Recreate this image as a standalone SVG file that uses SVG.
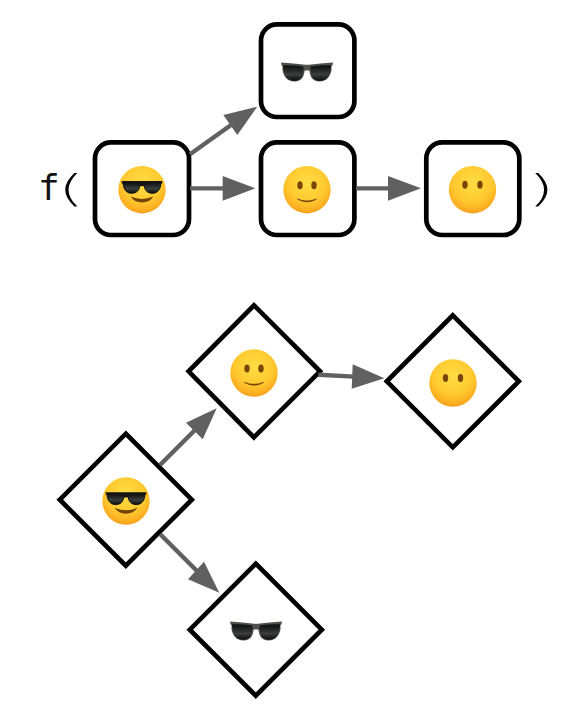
<svg xmlns="http://www.w3.org/2000/svg" width="578" height="720" viewBox="0 0 578 720">
<style>
.box{fill:#fff;stroke:#000;stroke-width:4.7;stroke-linejoin:miter}
.edge{fill:none;stroke:#606060;stroke-width:4.4}
.head{fill:#606060;stroke:none}
.fn{font-family:"DejaVu Sans Mono",monospace;font-size:36px;fill:#111}
.paren{font-family:"DejaVu Sans",sans-serif;font-weight:200;font-size:38px;fill:#000;text-anchor:middle}
</style>
<defs>
<radialGradient id="face" cx="0.5" cy="0.35" r="0.68">
<stop offset="0" stop-color="#ffdd45"/><stop offset="0.6" stop-color="#ffc92e"/><stop offset="0.9" stop-color="#fba91f"/><stop offset="1" stop-color="#ef9015"/>
</radialGradient>
<linearGradient id="lens" x1="0" y1="0" x2="0" y2="1">
<stop offset="0" stop-color="#0c0c0c"/><stop offset="0.6" stop-color="#3a3e3d"/><stop offset="1" stop-color="#0c0c0c"/>
</linearGradient>
<symbol id="smile" overflow="visible" viewBox="-24 -24 48 48" width="48" height="48">
<circle r="23.7" fill="url(#face)"/>
<ellipse cx="-7" cy="-4.5" rx="2.7" ry="4" fill="#7a4608"/><ellipse cx="7" cy="-4.5" rx="2.7" ry="4" fill="#7a4608"/>
<path d="M-9.5 9.4Q0 13.2 9.5 9.4Q0 15 -9.5 9.4Z" fill="#6e3f08" stroke="#6e3f08" stroke-width=".7"/>
</symbol>
<symbol id="neutral" overflow="visible" viewBox="-24 -24 48 48" width="48" height="48">
<circle r="23.7" fill="url(#face)"/>
<ellipse cx="-7.5" cy="-5" rx="2.7" ry="4" fill="#7a4608"/><ellipse cx="7.5" cy="-5" rx="2.7" ry="4" fill="#7a4608"/>
</symbol>
<symbol id="cool" overflow="visible" viewBox="-24 -24 48 48" width="48" height="48">
<circle r="23.7" fill="url(#face)"/>
<path d="M-20.5 -8.8H20.5L20 -6H-20Z" fill="#151515"/>
<path d="M-19 -7.5H-2.5C-1.5 -2 -3.5 3.6 -10.5 3.6C-16.5 3.6 -19 -2 -19 -7.5Z" fill="url(#lens)" stroke="#111" stroke-width="1"/>
<path d="M19 -7.5H2.5C1.5 -2 3.5 3.6 10.5 3.6C16.5 3.6 19 -2 19 -7.5Z" fill="url(#lens)" stroke="#111" stroke-width="1"/>
<path d="M-3 -7H3V-3.5H-3Z" fill="#151515"/>
<path d="M-11.3 6.8Q0 11.6 11.3 6.8Q8 12.6 0 12.8Q-8 12.6 -11.3 6.8Z" fill="#744308"/>
</symbol>
<symbol id="shades" overflow="visible" viewBox="-26 -10 52 20" width="52" height="20">
<path d="M-26 -9.5Q-12 -8.5 -4 -7.5Q0 -7 4 -7.5Q12 -8.5 26 -9.5L25.5 -6.5L24.5 -6V-2C23.5 4 20 9.5 12.5 9.5C5 9.5 3 4 2.5 -1Q0 -2.5 -2.5 -1C-3 4 -5 9.5 -12.5 9.5C-20 9.5 -23.5 4 -24.5 -2V-6L-25.5 -6.5Z" fill="#50514c"/>
<path d="M-24 -6.8Q-12 -6.8 -3.6 -5.5C-3 2 -5 8.7 -12.5 8.7C-20 8.7 -24 3 -24 -6.8Z" fill="url(#lens)"/>
<path d="M24 -6.8Q12 -6.8 3.6 -5.5C3 2 5 8.7 12.5 8.7C20 8.7 24 3 24 -6.8Z" fill="url(#lens)"/>
</symbol>
</defs>
<rect width="578" height="720" fill="#fff"/>
<text class="fn" x="38" y="200">f</text>
<text class="paren" transform="translate(71 201) scale(1.8 1)">(</text>
<text class="paren" transform="translate(541 201) scale(1.8 1)">)</text>
<g id="top-cool"><rect class="box" x="95" y="142.4" width="94" height="92.6" rx="16"/><use href="#cool" x="118" y="165.7"/></g>
<g id="top-shades"><rect class="box" x="261" y="24.4" width="93.4" height="92.6" rx="16"/><use href="#shades" x="281" y="62"/></g>
<g id="top-smile"><rect class="box" x="261" y="142.4" width="93.4" height="92.6" rx="16"/><use href="#smile" x="283" y="165.7"/></g>
<g id="top-neutral"><rect class="box" x="426.3" y="142.4" width="93" height="92.6" rx="16"/><use href="#neutral" x="448.5" y="165.7"/></g>
<g id="dia-cool"><path class="box" d="M125.8 433.7L191.8 499.7L125.8 565.7L59.8 499.7Z"/><use href="#cool" x="102" y="477"/></g>
<g id="dia-smile"><path class="box" d="M254 305.3L320 371.3L254 437.3L188.6 371.3Z"/><use href="#smile" x="230" y="349"/></g>
<g id="dia-neutral"><path class="box" d="M452.8 315.3L518.8 381.3L452.8 447.3L386.8 381.3Z"/><use href="#neutral" x="429" y="359"/></g>
<g id="dia-shades"><path class="box" d="M255.8 563.7L321.8 629.7L255.8 695.7L189.8 629.7Z"/><use href="#shades" x="230" y="621"/></g>
<g id="connectors">
<line class="edge" x1="190" y1="154.3" x2="231" y2="125"/><polygon class="head" points="257.3,106.7 223.3,115 237.3,135"/>
<line class="edge" x1="190" y1="188.4" x2="225" y2="188.4"/><polygon class="head" points="255.3,188.3 222.7,176 222.7,200.7"/>
<line class="edge" x1="356" y1="188.4" x2="391" y2="188.4"/><polygon class="head" points="421,188.3 388,176 388,200.7"/>
<line class="edge" x1="160" y1="465" x2="195" y2="430"/><polygon class="head" points="216.7,408.3 186,422.7 202.7,439.3"/>
<line class="edge" x1="318.3" y1="374.7" x2="354" y2="376.6"/><polygon class="head" points="384.3,378.3 352.7,364.3 351.7,388.7"/>
<line class="edge" x1="160" y1="534" x2="197" y2="571"/><polygon class="head" points="219.3,592.7 204,561.7 188,579.3"/>
</g>
</svg>
